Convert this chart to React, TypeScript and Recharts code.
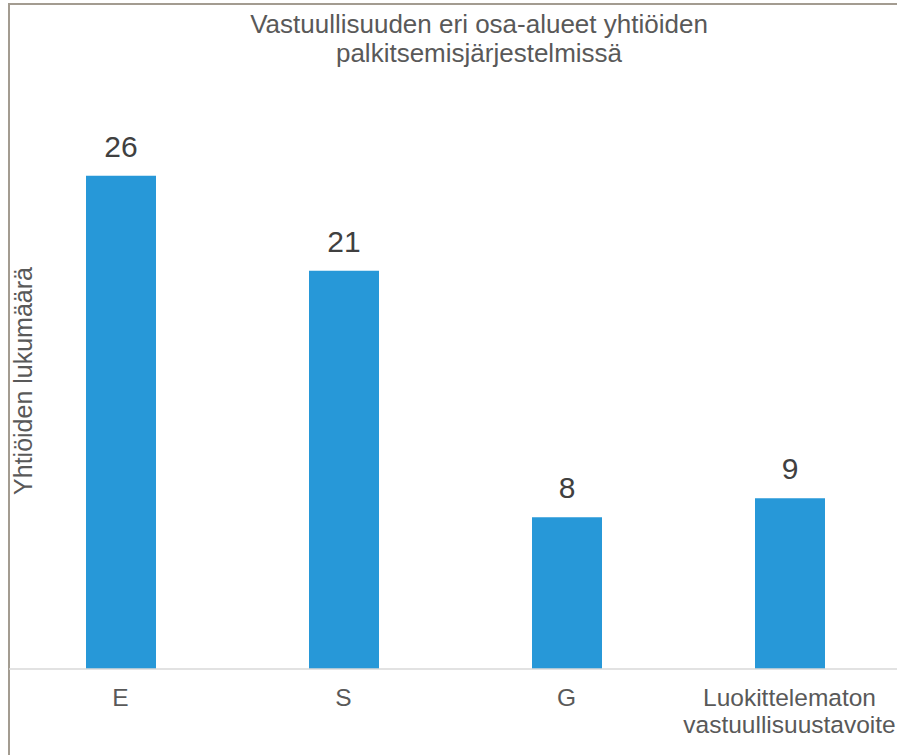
import React from 'react';
import { BarChart, Bar, XAxis, YAxis, LabelList } from 'recharts';

const categories = ['E', 'S', 'G', 'Luokittelematon\nvastuullisuustavoite'];
const companyCounts = [26, 21, 8, 9];
const titleLines = ['Vastuullisuuden eri osa-alueet yhtiöiden', 'palkitsemisjärjestelmissä'];
const yAxisTitle = 'Yhtiöiden lukumäärä';

const data = categories.map((name, i) => ({ name, count: companyCounts[i] }));

const FONT = 'Arial, "Liberation Sans", sans-serif';

const CategoryTick = (props: any) => {
  const { x, payload } = props;
  const lines = String(payload.value).split('\n');
  return (
    <text x={x} y={706} textAnchor="middle" fill="#595959" fontSize={24.5} fontFamily={FONT}>
      {lines.map((line, i) => (
        <tspan key={i} x={x} dy={i === 0 ? 0 : 27}>
          {line}
        </tspan>
      ))}
    </text>
  );
};

const App: React.FC = () => {
  return (
    <div style={{ position: 'absolute', left: 0, top: 0, width: 897, height: 755, overflow: 'hidden', background: '#fff' }}>
      {/* chart frame, runs off the right and bottom edges */}
      <div
        style={{
          position: 'absolute',
          left: 8,
          top: 3,
          width: 1000,
          height: 1000,
          borderTop: '2px solid #a39c91',
          borderLeft: '2px solid #a39c91',
        }}
      />
      <div style={{ position: 'absolute', left: 0, top: 0 }}>
        <BarChart width={910} height={755} data={data} margin={{ top: 100, right: 9, bottom: 26, left: 9 }}>
          <XAxis
            dataKey="name"
            axisLine={{ stroke: '#d9d9d9', strokeWidth: 1.5 }}
            tickLine={false}
            height={60}
            interval={0}
            tick={<CategoryTick />}
          />
          <YAxis hide domain={[0, 30]} />
          <Bar dataKey="count" fill="#2798d8" barSize={70} isAnimationActive={false}>
            <LabelList dataKey="count" position="top" offset={19} fill="#404040" fontSize={30} fontFamily={FONT} />
          </Bar>
        </BarChart>
      </div>
      <svg width={897} height={755} style={{ position: 'absolute', left: 0, top: 0, pointerEvents: 'none' }}>
        <text x={479} textAnchor="middle" fill="#595959" fontSize={26} fontFamily={FONT}>
          {titleLines.map((line, i) => (
            <tspan key={i} x={479} y={33 + i * 29}>
              {line}
            </tspan>
          ))}
        </text>
        <text
          x={0}
          y={0}
          transform="translate(32, 381) rotate(-90)"
          textAnchor="middle"
          fill="#595959"
          fontSize={25}
          fontFamily={FONT}
        >
          {yAxisTitle}
        </text>
      </svg>
    </div>
  );
};

export default App;
